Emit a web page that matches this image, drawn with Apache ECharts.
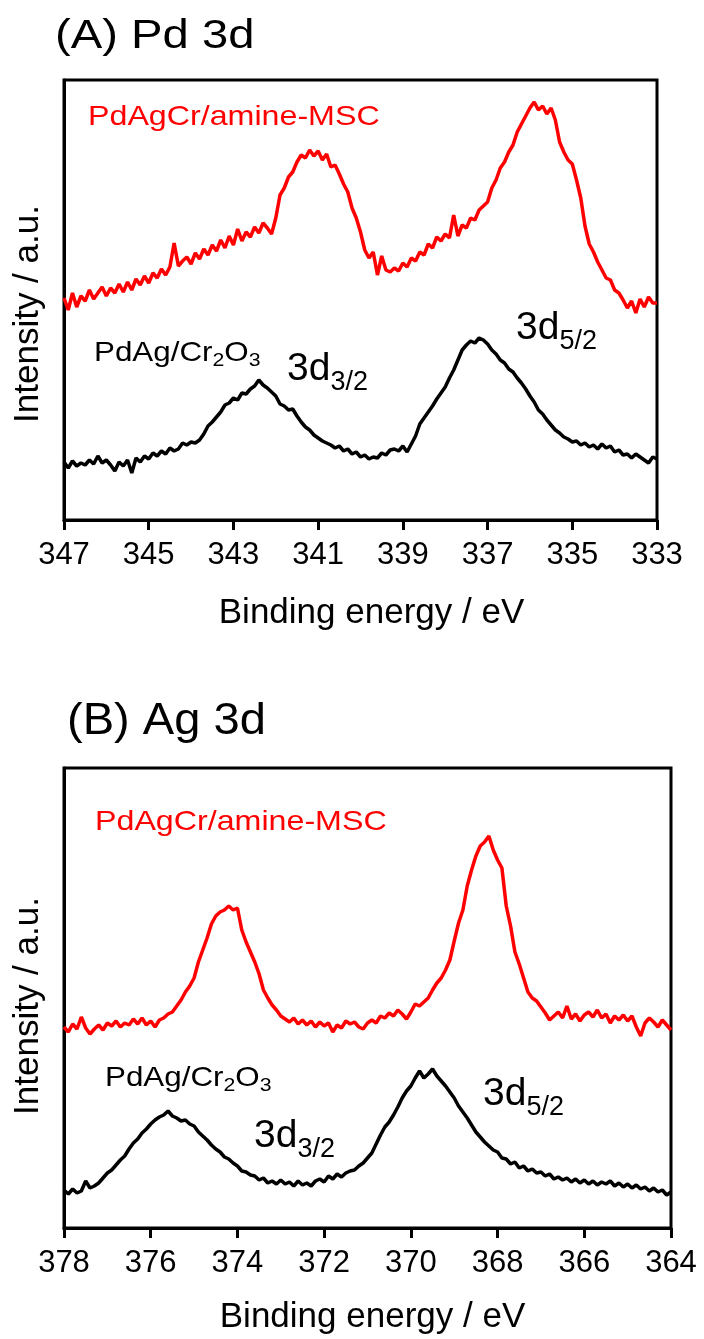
<!DOCTYPE html>
<html>
<head>
<meta charset="utf-8">
<script src="https://cdn.jsdelivr.net/npm/echarts@6/dist/echarts.min.js"></script>
<style>
  html, body { margin: 0; padding: 0; background: #fff; }
  #chart { width: 704px; height: 1339px; }
</style>
</head>
<body>
<div id="chart"></div>
<script>
const fontFamily = '"Liberation Sans", Arial, sans-serif';

// scan grids (binding energy, eV), 0.1 eV steps from high to low
const startA = 347;
const startB = 378;
const stepE = 0.1;

const ticksA = [333, 335, 337, 339, 341, 343, 345, 347];
const ticksB = [364, 366, 368, 370, 372, 374, 376, 378];

// (A) Pd 3d, intensity in a.u.
const pdRed = [
  222, 210, 227, 213, 224, 219, 230, 221, 227, 233,
  224, 232, 227, 236, 228, 238, 230, 241, 235, 244,
  237, 247, 242, 251, 245, 253, 277, 254, 259, 263,
  256, 267, 261, 271, 265, 275, 269, 280, 272, 284,
  275, 291, 279, 288, 283, 293, 287, 297, 292, 286,
  302, 325, 332, 343, 348, 358, 365, 362, 370, 364,
  369, 360, 366, 353, 355, 346, 336, 328, 312, 302,
  288, 270, 262, 268, 245, 264, 250, 248, 252, 249,
  257, 253, 262, 259, 268, 265, 276, 272, 283, 279,
  286, 282, 305, 284, 295, 292, 302, 300, 310, 314,
  318, 332, 340, 352, 358, 368, 375, 388, 396, 404,
  412, 418, 410, 414, 406, 412, 400, 378, 368, 360,
  356, 340, 322, 294, 276, 268, 258, 250, 242, 240,
  230, 227, 220, 212, 219, 207, 221, 213, 223, 217,
  217
];
const pdBlack = [
  58, 52, 59, 54, 57, 55, 60, 56, 64, 57,
  60, 55, 49, 58, 54, 60, 47, 62, 58, 64,
  61, 67, 64, 69, 66, 72, 69, 71, 77, 75,
  78, 77, 80, 86, 94, 98, 103, 108, 115, 117,
  122, 120, 127, 126, 131, 134, 140, 135, 132, 128,
  124, 116, 114, 110, 111, 104, 98, 93, 90, 85,
  82, 79, 77, 75, 72, 74, 69, 71, 66, 68,
  63, 65, 61, 63, 62, 67, 65, 70, 71, 69,
  74, 68, 76, 84, 96, 102, 108, 114, 121, 127,
  133, 142, 150, 160, 170, 175, 179, 177, 182, 180,
  176, 170, 166, 160, 157, 151, 148, 142, 137, 131,
  124, 118, 110, 106, 100, 95, 90, 87, 83, 81,
  78, 79, 75, 77, 73, 75, 71, 76, 72, 74,
  68, 70, 65, 66, 62, 66, 63, 60, 57, 63,
  61
];

// (B) Ag 3d
const agRed = [
  201, 196, 204, 199, 211, 200, 194, 199, 203, 198,
  205, 202, 207, 201, 205, 203, 209, 204, 210, 203,
  207, 201, 208, 210, 214, 216, 222, 228, 236, 242,
  250, 266, 278, 290, 304, 312, 316, 318, 322, 318,
  320, 298, 286, 276, 266, 254, 238, 230, 223, 218,
  212, 209, 206, 210, 204, 208, 203, 207, 201, 206,
  202, 205, 196, 203, 200, 207, 204, 206, 201, 199,
  205, 208, 205, 212, 210, 215, 212, 218, 214, 209,
  216, 224, 222, 226, 230, 238, 245, 250, 258, 268,
  287, 305, 318, 342, 358, 372, 382, 386, 392, 378,
  368, 360, 322, 302, 276, 264, 250, 236, 230, 227,
  221, 215, 208, 212, 216, 210, 222, 209, 214, 207,
  213, 216, 211, 218, 210, 214, 205, 212, 208, 213,
  207, 212, 201, 192, 205, 210, 206, 201, 208, 203,
  198
];
const agBlack = [
  38, 34, 39, 35, 37, 47, 40, 42, 45, 50,
  55, 58, 63, 68, 72, 79, 85, 89, 95, 99,
  104, 108, 111, 113, 117, 112, 110, 107, 108, 104,
  102, 96, 92, 88, 83, 79, 76, 71, 69, 65,
  62, 57, 56, 53, 52, 48, 50, 45, 47, 44,
  48, 44, 46, 42, 47, 43, 45, 42, 47, 49,
  46, 52, 49, 54, 51, 55, 57, 58, 62, 65,
  70, 75, 84, 93, 101, 106, 113, 121, 130, 137,
  142, 150, 157, 150, 154, 159, 152, 147, 142, 136,
  130, 122, 116, 110, 103, 96, 91, 86, 82, 78,
  76, 70, 69, 64, 66, 60, 62, 57, 59, 55,
  56, 52, 54, 49, 51, 48, 50, 46, 49, 45,
  48, 44, 47, 43, 46, 44, 47, 42, 45, 41,
  44, 40, 43, 39, 41, 37, 40, 36, 38, 33,
  36
];

function pairs(start, values) {
  return values.map((v, i) => [+(start - i * stepE).toFixed(2), v]);
}

function energyAxis(gridIndex, lo, hi, ticks, nameGap, shift) {
  return {
    type: 'value', gridIndex: gridIndex, min: lo, max: hi, inverse: true,
    name: 'Binding energy / eV', nameLocation: 'middle', nameGap: nameGap,
    nameTextStyle: { fontSize: 35, color: '#000', fontFamily: fontFamily, padding: [0, 0, 0, shift] },
    axisLine: { show: true, lineStyle: { color: '#000', width: 3 } },
    axisTick: { show: true, length: 10, lineStyle: { color: '#000', width: 3 }, customValues: ticks },
    axisLabel: { fontSize: 31, color: '#000', margin: 20, fontFamily: fontFamily, customValues: ticks },
    splitLine: { show: false }
  };
}

function intensityAxis(gridIndex, top, shift) {
  return {
    type: 'value', gridIndex: gridIndex, min: 0, max: top,
    name: 'Intensity / a.u.', nameLocation: 'middle', nameGap: 18,
    nameTextStyle: { fontSize: 35, color: '#000', fontFamily: fontFamily, padding: [0, shift, 0, 0] },
    axisLine: { show: true, lineStyle: { color: '#000', width: 3 } },
    axisTick: { show: false }, axisLabel: { show: false }, splitLine: { show: false }
  };
}

function spectrum(idx, data, color) {
  return {
    type: 'line', xAxisIndex: idx, yAxisIndex: idx, data: data,
    showSymbol: false, symbol: 'none', lineStyle: { color: color, width: 3.5 }
  };
}

function label(text, x, y, size, color, scaleX, rich) {
  return {
    type: 'text', x: x, y: y, scaleX: scaleX || 1,
    style: {
      text: text, fill: color,
      font: size + 'px ' + fontFamily,
      align: 'left', textAlign: 'left',
      verticalAlign: 'middle', textVerticalAlign: 'middle',
      rich: rich || {}
    }
  };
}

const subSmall = { sub: { font: '19px ' + fontFamily, fontSize: 19, padding: [16, 0, 0, 0] } };
const subBig = { s: { font: '27px ' + fontFamily, fontSize: 27, padding: [28, 0, 0, 0] } };

const chart = echarts.init(document.getElementById('chart'));

chart.setOption({
  backgroundColor: '#fff',
  animation: false,
  grid: [
    { left: 64, top: 80, width: 593, height: 440, show: true, borderColor: '#000', borderWidth: 3 },
    { left: 64, top: 768, width: 607, height: 460, show: true, borderColor: '#000', borderWidth: 3 }
  ],
  xAxis: [
    energyAxis(0, 333, 347, ticksA, 76, 22),
    energyAxis(1, 364, 378, ticksB, 72, 10)
  ],
  yAxis: [
    intensityAxis(0, 440, 28),
    intensityAxis(1, 460, 16)
  ],
  series: [
    spectrum(0, pairs(startA, pdRed), '#ff0000'),
    spectrum(0, pairs(startA, pdBlack), '#000'),
    spectrum(1, pairs(startB, agRed), '#ff0000'),
    spectrum(1, pairs(startB, agBlack), '#000')
  ],
  graphic: [
    label('(A) Pd 3d', 55, 37, 40, '#000', 1.18),
    label('PdAgCr/amine-MSC', 88, 117, 28, '#ff0000', 1.15),
    label('PdAg/Cr{sub|2}O{sub|3}', 94, 353, 28, '#000', 1.12, subSmall),
    label('3d{s|3/2}', 287, 369, 39, '#000', 1, subBig),
    label('3d{s|5/2}', 516, 328, 39, '#000', 1, subBig),

    label('(B) Ag 3d', 67, 722, 44, '#000', 1.07),
    label('PdAgCr/amine-MSC', 95, 822, 28, '#ff0000', 1.15),
    label('PdAg/Cr{sub|2}O{sub|3}', 105, 1078, 28, '#000', 1.12, subSmall),
    label('3d{s|3/2}', 254, 1136, 39, '#000', 1, subBig),
    label('3d{s|5/2}', 483, 1094, 39, '#000', 1, subBig)
  ]
});
</script>
</body>
</html>
